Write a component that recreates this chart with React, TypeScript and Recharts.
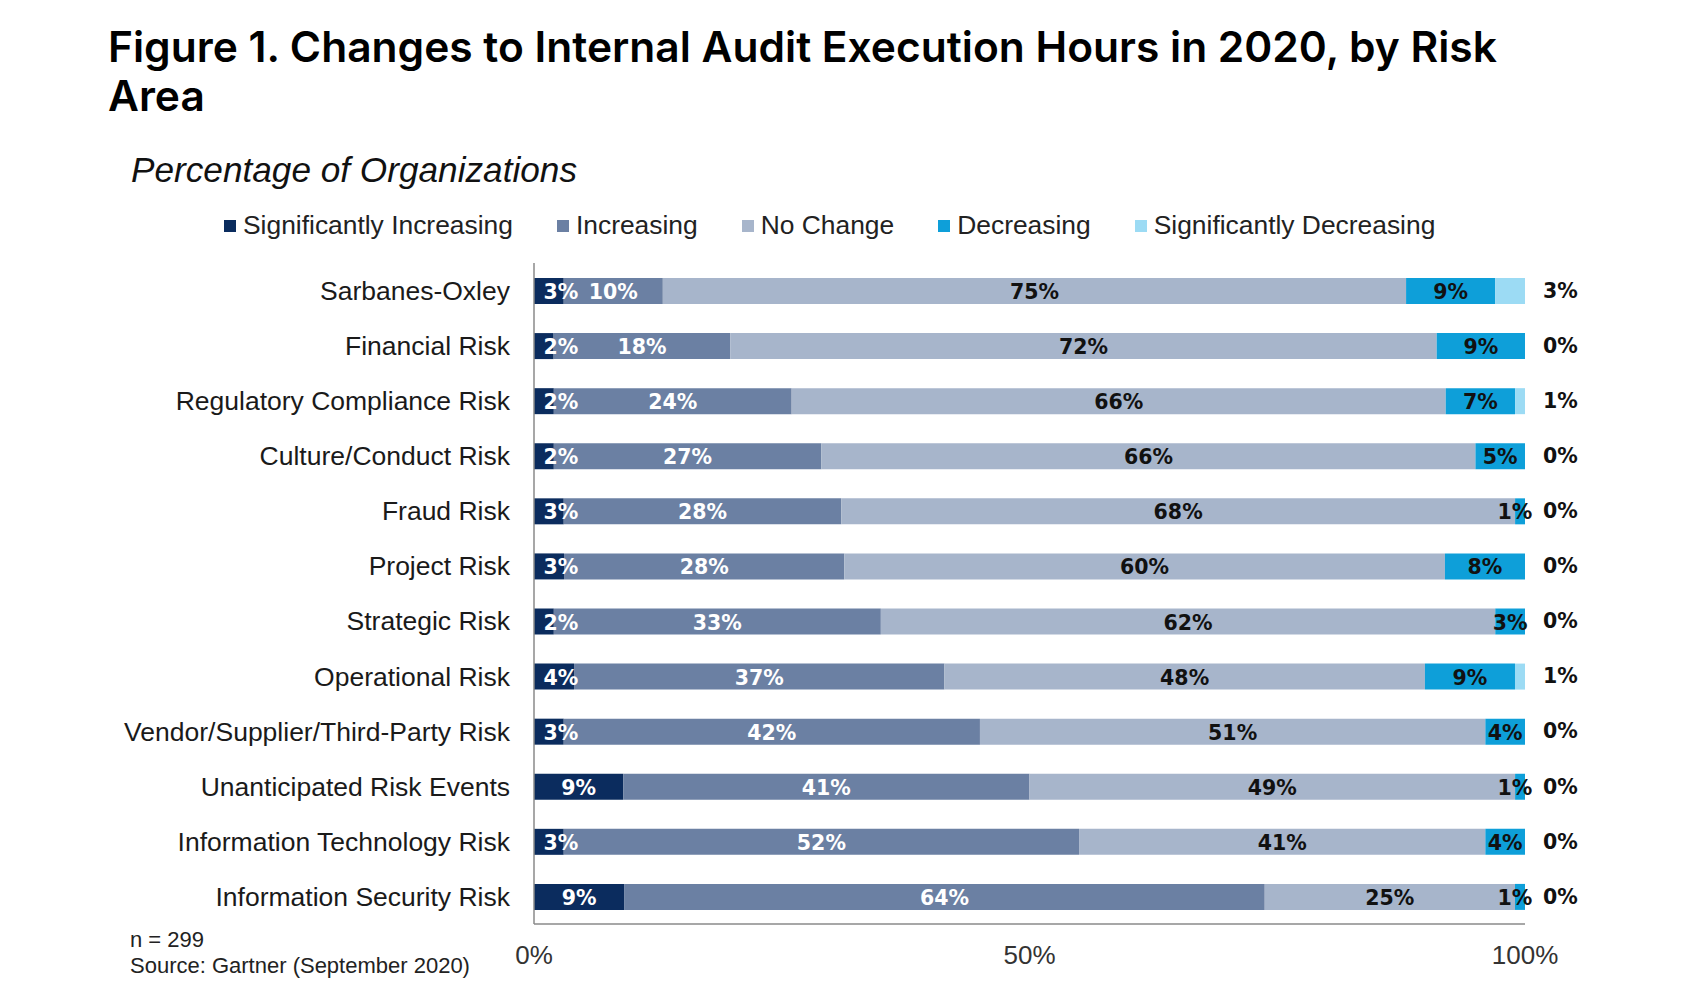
import React from 'react'
import { BarChart, Bar, XAxis, YAxis, LabelList } from 'recharts'

const categories = [
  'Sarbanes-Oxley',
  'Financial Risk',
  'Regulatory Compliance Risk',
  'Culture/Conduct Risk',
  'Fraud Risk',
  'Project Risk',
  'Strategic Risk',
  'Operational Risk',
  'Vendor/Supplier/Third-Party Risk',
  'Unanticipated Risk Events',
  'Information Technology Risk',
  'Information Security Risk',
]

const sigIncreasing = [3, 2, 2, 2, 3, 3, 2, 4, 3, 9, 3, 9]
const increasing = [10, 18, 24, 27, 28, 28, 33, 37, 42, 41, 52, 64]
const noChange = [75, 72, 66, 66, 68, 60, 62, 48, 51, 49, 41, 25]
const decreasing = [9, 9, 7, 5, 1, 8, 3, 9, 4, 1, 4, 1]
const sigDecreasing = [3, 0, 1, 0, 0, 0, 0, 1, 0, 0, 0, 0]

const xTicks = [0, 0.5, 1]

const SERIES = [
  { key: 'si', label: 'Significantly Increasing', color: '#0b2c5e', text: '#ffffff' },
  { key: 'inc', label: 'Increasing', color: '#6b80a3', text: '#ffffff' },
  { key: 'nc', label: 'No Change', color: '#a7b5cb', text: '#111111' },
  { key: 'dec', label: 'Decreasing', color: '#0e9fd9', text: '#111111' },
  { key: 'sd', label: 'Significantly Decreasing', color: '#9cdbf4', text: '#111111' },
]

const data = categories.map((name, i) => ({
  name,
  si: sigIncreasing[i],
  inc: increasing[i],
  nc: noChange[i],
  dec: decreasing[i],
  sd: sigDecreasing[i],
}))

const FONT = '"Liberation Sans", Arial, sans-serif'
const LABEL_FONT = '"DejaVu Sans", Verdana, sans-serif'

// centred labels, nudged off the axis (first series) or pulled back
// from the bar end (Decreasing) when the segment is too thin
function insideLabel(color: string, clampRight: boolean) {
  return (props: any) => {
    const { x, y, width, height, value } = props
    if (!value) return null
    let cx = x + Math.max(width / 2, 27)
    if (clampRight) cx = Math.min(x + width / 2, x + width - 10)
    return (
      <text
        x={cx}
        y={y + height / 2 + 1}
        textAnchor="middle"
        dominantBaseline="central"
        fill={color}
        fontFamily={LABEL_FONT}
        fontWeight="bold"
        fontSize={20.5}
      >
        {value}%
      </text>
    )
  }
}

export default function App() {
  return (
    <div style={{ position: 'absolute', left: 0, top: 0, width: 1698, height: 1004, background: '#fff', fontFamily: FONT }}>
      <div style={{ position: 'absolute', left: 108, top: 22, fontFamily: 'Inter, sans-serif', fontWeight: 600, fontSize: 42.5, lineHeight: '49px', color: '#000', whiteSpace: 'nowrap' }}>
        Figure 1. Changes to Internal Audit Execution Hours in 2020, by Risk
        <br />
        Area
      </div>
      <div style={{ position: 'absolute', left: 131, top: 150, fontStyle: 'italic', fontSize: 35.2, color: '#111', whiteSpace: 'nowrap' }}>
        Percentage of Organizations
      </div>

      {/* legend */}
      <div style={{ position: 'absolute', left: 224, top: 210, display: 'flex', alignItems: 'center', fontSize: 26.4, color: '#222', whiteSpace: 'nowrap' }}>
        {SERIES.map(s => (
          <div key={s.key} style={{ display: 'flex', alignItems: 'center', marginRight: 44 }}>
            <span style={{ display: 'inline-block', width: 12, height: 12, background: s.color, marginRight: 7 }} />
            <span>{s.label}</span>
          </div>
        ))}
      </div>

      <div style={{ position: 'absolute', left: 0, top: 0 }}>
        <BarChart
          width={1698}
          height={1004}
          data={data}
          layout="vertical"
          stackOffset="expand"
          barSize={26}
          margin={{ top: 263, right: 0, bottom: 40, left: 0 }}
        >
          <XAxis
            type="number"
            domain={[0, 1]}
            ticks={xTicks}
            tickFormatter={(v: number) => `${Math.round(v * 100)}%`}
            axisLine={{ stroke: '#8a8a8a', strokeWidth: 1.5 }}
            tickLine={false}
            tickMargin={16}
            height={40}
            tick={{ fontSize: 26, fill: '#333', fontFamily: FONT }}
          />
          <YAxis
            type="category"
            dataKey="name"
            width={534}
            axisLine={{ stroke: '#8a8a8a', strokeWidth: 1.5 }}
            tickLine={false}
            tickMargin={18}
            interval={0}
            tick={{ fontSize: 26.5, fill: '#1a1a1a', fontFamily: FONT }}
          />
          {/* right-hand axis carries the "Significantly Decreasing" values, zeros included */}
          <YAxis
            yAxisId="right"
            orientation="right"
            type="category"
            dataKey="name"
            width={173}
            axisLine={false}
            tickLine={false}
            tickMargin={12}
            interval={0}
            tickFormatter={(_v: string, i: number) => `${sigDecreasing[i]}%`}
            tick={{ fontSize: 20.5, fill: '#111', fontFamily: LABEL_FONT, fontWeight: 'bold' }}
          />
          {SERIES.map((s, idx) => (
            <Bar key={s.key} dataKey={s.key} name={s.label} stackId="a" fill={s.color} isAnimationActive={false}>
              {idx < SERIES.length - 1 && (
                <LabelList dataKey={s.key} content={insideLabel(s.text, s.key === 'dec')} />
              )}
            </Bar>
          ))}
        </BarChart>
      </div>

      <div style={{ position: 'absolute', left: 130, top: 927, fontSize: 22, color: '#222', lineHeight: '26px', whiteSpace: 'nowrap' }}>
        n = 299
        <br />
        Source: Gartner (September 2020)
      </div>
    </div>
  )
}
